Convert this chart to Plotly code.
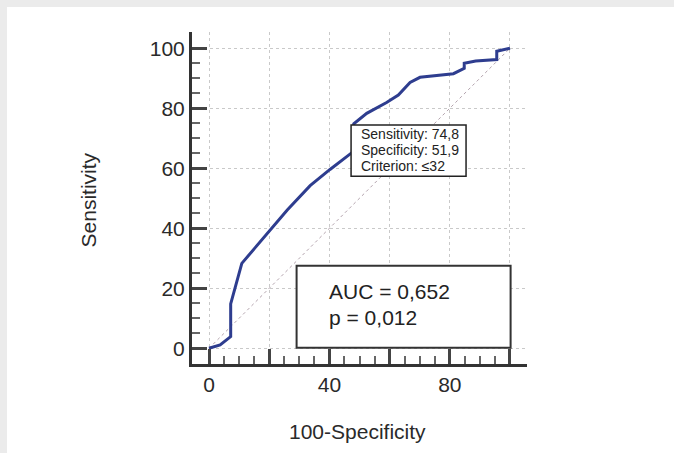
import plotly.graph_objects as go

# ROC curve data (100-Specificity vs Sensitivity)
fpr = [0, 3.7, 7.2, 7.2, 10.9, 18.1, 26.0, 33.6, 40.2, 47.6, 48.1, 52.4, 59.0,
       62.9, 66.8, 70.1, 81.2, 84.8, 84.8, 88.6, 95.6, 95.6, 100]
tpr = [0, 1.1, 3.9, 14.8, 28.3, 36.7, 46.1, 54.2, 59.6, 65.3, 74.8, 78.3, 81.9,
       84.4, 88.6, 90.3, 91.5, 93.3, 95.0, 95.7, 96.2, 99.0, 100]
diag = [0, 100]

major_vals = [0, 20, 40, 60, 80, 100]
x_tick_text = ["0", "", "40", "", "80", ""]
y_tick_text = ["0", "20", "40", "60", "80", "100"]
minor_vals = [v for v in range(5, 100, 5) if v % 20 != 0]

crit_lines = ["Sensitivity: 74,8", "Specificity: 51,9", "Criterion: \u226432"]
auc_lines = ["AUC = 0,652", "p = 0,012"]

FONT = "Liberation Sans, Arial, sans-serif"
TXT = "#2a2a2a"

fig = go.Figure()
fig.add_trace(go.Scatter(x=diag, y=diag, mode="lines",
                         line=dict(color="#b3a3ad", width=1, dash="dot"),
                         hoverinfo="skip", showlegend=False))
fig.add_trace(go.Scatter(x=fpr, y=tpr, mode="lines",
                         line=dict(color="#2e3d8f", width=3),
                         showlegend=False))

axis_common = dict(
    showline=True, linewidth=3, linecolor="#333333",
    ticks="inside", ticklen=15, tickwidth=3, tickcolor="#444444",
    tickvals=major_vals,
    showgrid=True, gridcolor="#c9c9c9", gridwidth=1, griddash="dot",
    zeroline=False,
    tickfont=dict(family=FONT, size=21, color=TXT),
    minor=dict(tickvals=minor_vals, ticks="inside", ticklen=8, tickwidth=1.5,
               tickcolor="#666666", showgrid=False),
)

fig.update_xaxes(range=[-5.65, 105.65], ticktext=x_tick_text, **axis_common)
fig.update_yaxes(range=[-5.23, 105.4], ticktext=y_tick_text, **axis_common)

shapes = [
    # page frame
    dict(type="rect", xref="paper", yref="paper", x0=-0.5731, x1=1.4388,
         y0=1.0753, y1=1.0964, fillcolor="#ebebeb", line=dict(width=0), layer="below"),
    dict(type="rect", xref="paper", yref="paper", x0=-0.5731, x1=-0.5522,
         y0=-0.268, y1=1.0964, fillcolor="#ebebeb", line=dict(width=0), layer="below"),
    # criterion box
    dict(type="rect", xref="x", yref="y", x0=47.2, x1=85.4, y0=57.3, y1=74.4,
         fillcolor="white", line=dict(color="#222222", width=1.5), layer="above"),
    # AUC box
    dict(type="rect", xref="x", yref="y", x0=29.1, x1=100.2, y0=0.2, y1=27.5,
         fillcolor="white", line=dict(color="#333333", width=2), layer="above"),
]

annotations = []
for txt, yy in zip(crit_lines, [71.27, 66.03, 60.8]):
    annotations.append(dict(x=49.8, y=yy, xref="x", yref="y", text=txt, showarrow=False,
                            xanchor="left", yanchor="middle",
                            font=dict(family=FONT, size=14, color="#222222")))
for txt, yy in zip(auc_lines, [18.9, 10.3]):
    annotations.append(dict(x=39.1, y=yy, xref="x", yref="y", text=txt, showarrow=False,
                            xanchor="left", yanchor="middle",
                            font=dict(family=FONT, size=21, color="#222222")))
annotations.append(dict(x=-0.3075, y=0.4955, xref="paper", yref="paper", text="Sensitivity",
                        showarrow=False, textangle=-90, xanchor="center", yanchor="middle",
                        font=dict(family=FONT, size=21, color=TXT)))
annotations.append(dict(x=0.4949, y=-0.2039, xref="paper", yref="paper", text="100-Specificity",
                        showarrow=False, xanchor="center", yanchor="middle",
                        font=dict(family=FONT, size=21, color=TXT)))

fig.update_layout(
    width=674, height=453,
    margin=dict(l=192, r=147, t=32, b=89),
    paper_bgcolor="white", plot_bgcolor="white",
    shapes=shapes, annotations=annotations,
    showlegend=False,
)

fig.write_html("out.html", config={"displayModeBar": False},
               post_script="document.body.style.margin='0';document.body.style.overflow='hidden';")
